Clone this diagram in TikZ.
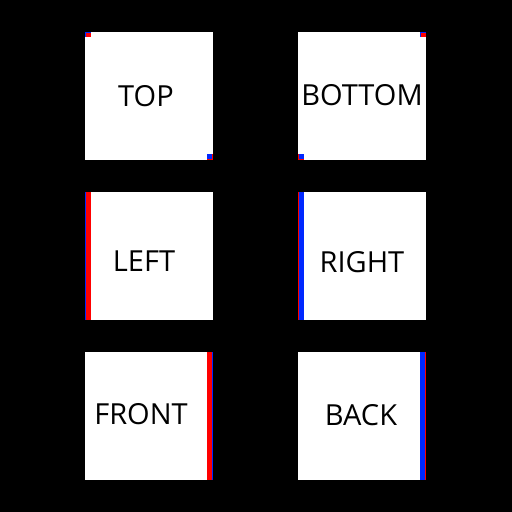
\documentclass[tikz,border=0pt]{standalone}
\usepackage{fontspec}
\setmainfont{Open Sans}
\definecolor{sideblue}{RGB}{0,40,255}
\definecolor{sidered}{RGB}{255,0,0}
\begin{document}
\begin{tikzpicture}[x=1pt, y=-1pt,
    face/.style={fill=white, draw=none},
    lbl/.style={font=\fontsize{29}{29}\selectfont, inner sep=0pt}]
        \fill[black](0, 0) rectangle (512, 512);
        \useasboundingbox(0, 0) rectangle (512, 512);

        %%faces
        \fill[face](85, 32) rectangle (213, 160);
            \fill[sideblue](85, 32) rectangle (91, 37);
            \fill[sidered](86, 33) rectangle (91, 37);
            \fill[sidered](207, 154) rectangle (213, 160);
            \fill[sideblue](207, 154) rectangle (212, 159);
        \fill[face](298, 32) rectangle (426, 160);
            \fill[sideblue](420, 32) rectangle (426, 37);
            \fill[sidered](421, 33) rectangle (426, 37);
            \fill[sidered](298, 154) rectangle (304, 160);
            \fill[sideblue](299, 154) rectangle (304, 159);
        \fill[face](85, 192) rectangle (213, 320);
            \fill[sideblue](85, 192) rectangle (86, 320);
            \fill[sidered](86, 192) rectangle (91, 320);
        \fill[face](298, 192) rectangle (426, 320);
            \fill[sidered](298, 192) rectangle (299, 320);
            \fill[sideblue](299, 192) rectangle (304, 320);
        \fill[face](85, 352) rectangle (213, 480);
            \fill[sidered](207, 352) rectangle (212, 480);
            \fill[sideblue](212, 352) rectangle (213, 480);
        \fill[face](298, 352) rectangle (426, 480);
            \fill[sideblue](420, 352) rectangle (425, 480);
            \fill[sidered](425, 352) rectangle (426, 480);

        %%nodes
        \node[lbl] (top) at(146, 96){TOP};
        \node[lbl] (bottom) at(362, 95){BOTTOM};
        \node[lbl] (left) at(144, 261){LEFT};
        \node[lbl] (right) at(362, 262){RIGHT};
        \node[lbl] (front) at(141, 414){FRONT};
        \node[lbl] (back) at(361, 415){BACK};
\end{tikzpicture}
\end{document}
